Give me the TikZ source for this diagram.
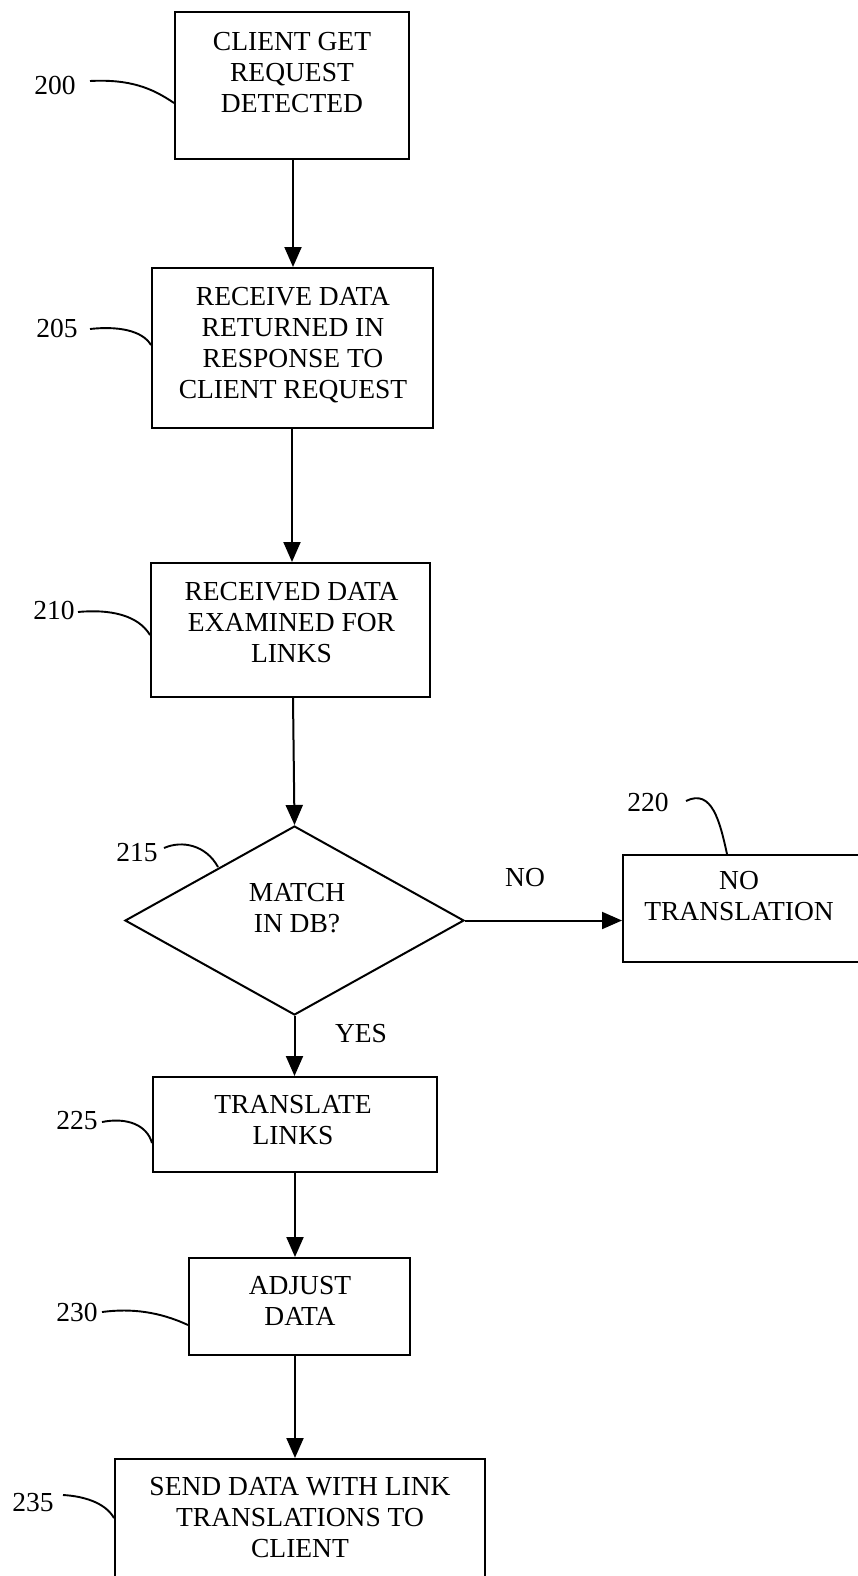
\documentclass[tikz,border=0pt]{standalone}
\usepackage{fontspec}
\setmainfont{Liberation Serif}
\usetikzlibrary{shapes.geometric,arrows.meta}
\begin{document}
\begin{tikzpicture}[x=1pt,y=-1pt,
  line width=2pt,
  box/.style={draw,rectangle,inner sep=0pt},
  txt/.style={inner sep=0pt,align=center,text depth=0pt,
    font=\fontsize{27.5}{31}\selectfont},
  lbl/.style={inner sep=0pt,text depth=0pt,font=\fontsize{27.5}{31}\selectfont},
  arr/.style={-{Triangle[length=20pt,width=17pt]}},
  lead/.style={line width=1.9pt}]
\useasboundingbox (0,0) rectangle (858,1576);
\clip (0,0) rectangle (858,1576);
\fill[white] (0,0) rectangle (858,1576);
% boxes
\node[box,minimum width=234pt,minimum height=147pt] (b200) at (292,85.5) {};
\node[box,minimum width=281pt,minimum height=160pt] (b205) at (292.5,348) {};
\node[box,minimum width=279pt,minimum height=134pt] (b210) at (290.5,630) {};
\node[draw,diamond,inner sep=0pt,minimum width=339pt,minimum height=189pt] (d215) at (294.5,920.5) {};
\node[box,minimum width=277pt,minimum height=107pt] (b220) at (761.5,908.5) {};
\node[box,minimum width=284pt,minimum height=95pt] (b225) at (295,1124.5) {};
\node[box,minimum width=221pt,minimum height=97pt] (b230) at (299.5,1306.5) {};
\node[box,minimum width=370pt,minimum height=181pt] (b235) at (300,1549.5) {};
% texts
\node[txt] (t200) at (292,72) {CLIENT GET\\REQUEST\\DETECTED};
\node[txt] (t205) at (293,343) {RECEIVE DATA\\RETURNED IN\\RESPONSE TO\\CLIENT REQUEST};
\node[txt] (t210) at (291.5,622) {RECEIVED DATA\\EXAMINED FOR\\LINKS};
\node[txt] (t215) at (297,908) {MATCH\\IN DB?};
\node[txt] (t220) at (739,896) {NO\\TRANSLATION};
\node[txt] (t225) at (293,1120) {TRANSLATE\\LINKS};
\node[txt] (t230) at (300,1301) {ADJUST\\DATA};
\node[txt] (t235) at (300,1517) {SEND DATA WITH LINK\\TRANSLATIONS TO\\CLIENT};
% reference labels
\node[lbl] (l200) at (55,85) {200};
\node[lbl] (l205) at (57,328) {205};
\node[lbl] (l210) at (54,610) {210};
\node[lbl] (l215) at (137,852) {215};
\node[lbl] (l220) at (648,802) {220};
\node[lbl] (l225) at (77,1120) {225};
\node[lbl] (l230) at (77,1312) {230};
\node[lbl] (l235) at (33,1502) {235};
\node[lbl] (lno) at (525,877) {NO};
\node[lbl] (lyes) at (361,1033) {YES};
% leader start points
\coordinate (s200) at (90,81);
\coordinate (s205) at (90,329);
\coordinate (s210) at (78,612);
\coordinate (s215) at (164,848);
\coordinate (s220) at (686,801);
\coordinate (s225) at (102,1122);
\coordinate (s230) at (102,1312);
\coordinate (s235) at (63,1495);
% leaders
\draw[lead] (s200) .. controls (130,79) and (152,88) .. (b200.west |- 0,103);
\draw[lead] (s205) .. controls (117,326) and (142,330) .. (b205.west |- 0,345);
\draw[lead] (s210) .. controls (110,609) and (138,615) .. (b210.west |- 0,635);
\draw[lead] (s215) .. controls (182,840) and (206,845) .. (218,867);
\draw[lead] (s220) .. controls (712,788) and (720,822) .. (b220.north -| 727,0);
\draw[lead] (s225) .. controls (127,1117) and (147,1125) .. (b225.west |- 0,1143);
\draw[lead] (s230) .. controls (132,1308) and (160,1312) .. (b230.west |- 0,1325);
\draw[lead] (s235) .. controls (82,1496) and (105,1502) .. (b235.west |- 0,1518);
% flow arrows
\draw[arr] (b200.south -| 293,0) -- (b205.north -| 293,0);
\draw[arr] (b205.south -| 292,0) -- (b210.north -| 292,0);
\draw[arr] (b210.south -| 293,0) -- (d215.north);
\draw[arr] (d215.east) -- (d215.east -| b220.west);
\draw[arr] (d215.south) -- (b225.north -| d215.south);
\draw[arr] (b225.south -| 295,0) -- (b230.north -| 295,0);
\draw[arr] (b230.south -| 295,0) -- (b235.north -| 295,0);
\end{tikzpicture}
\end{document}
